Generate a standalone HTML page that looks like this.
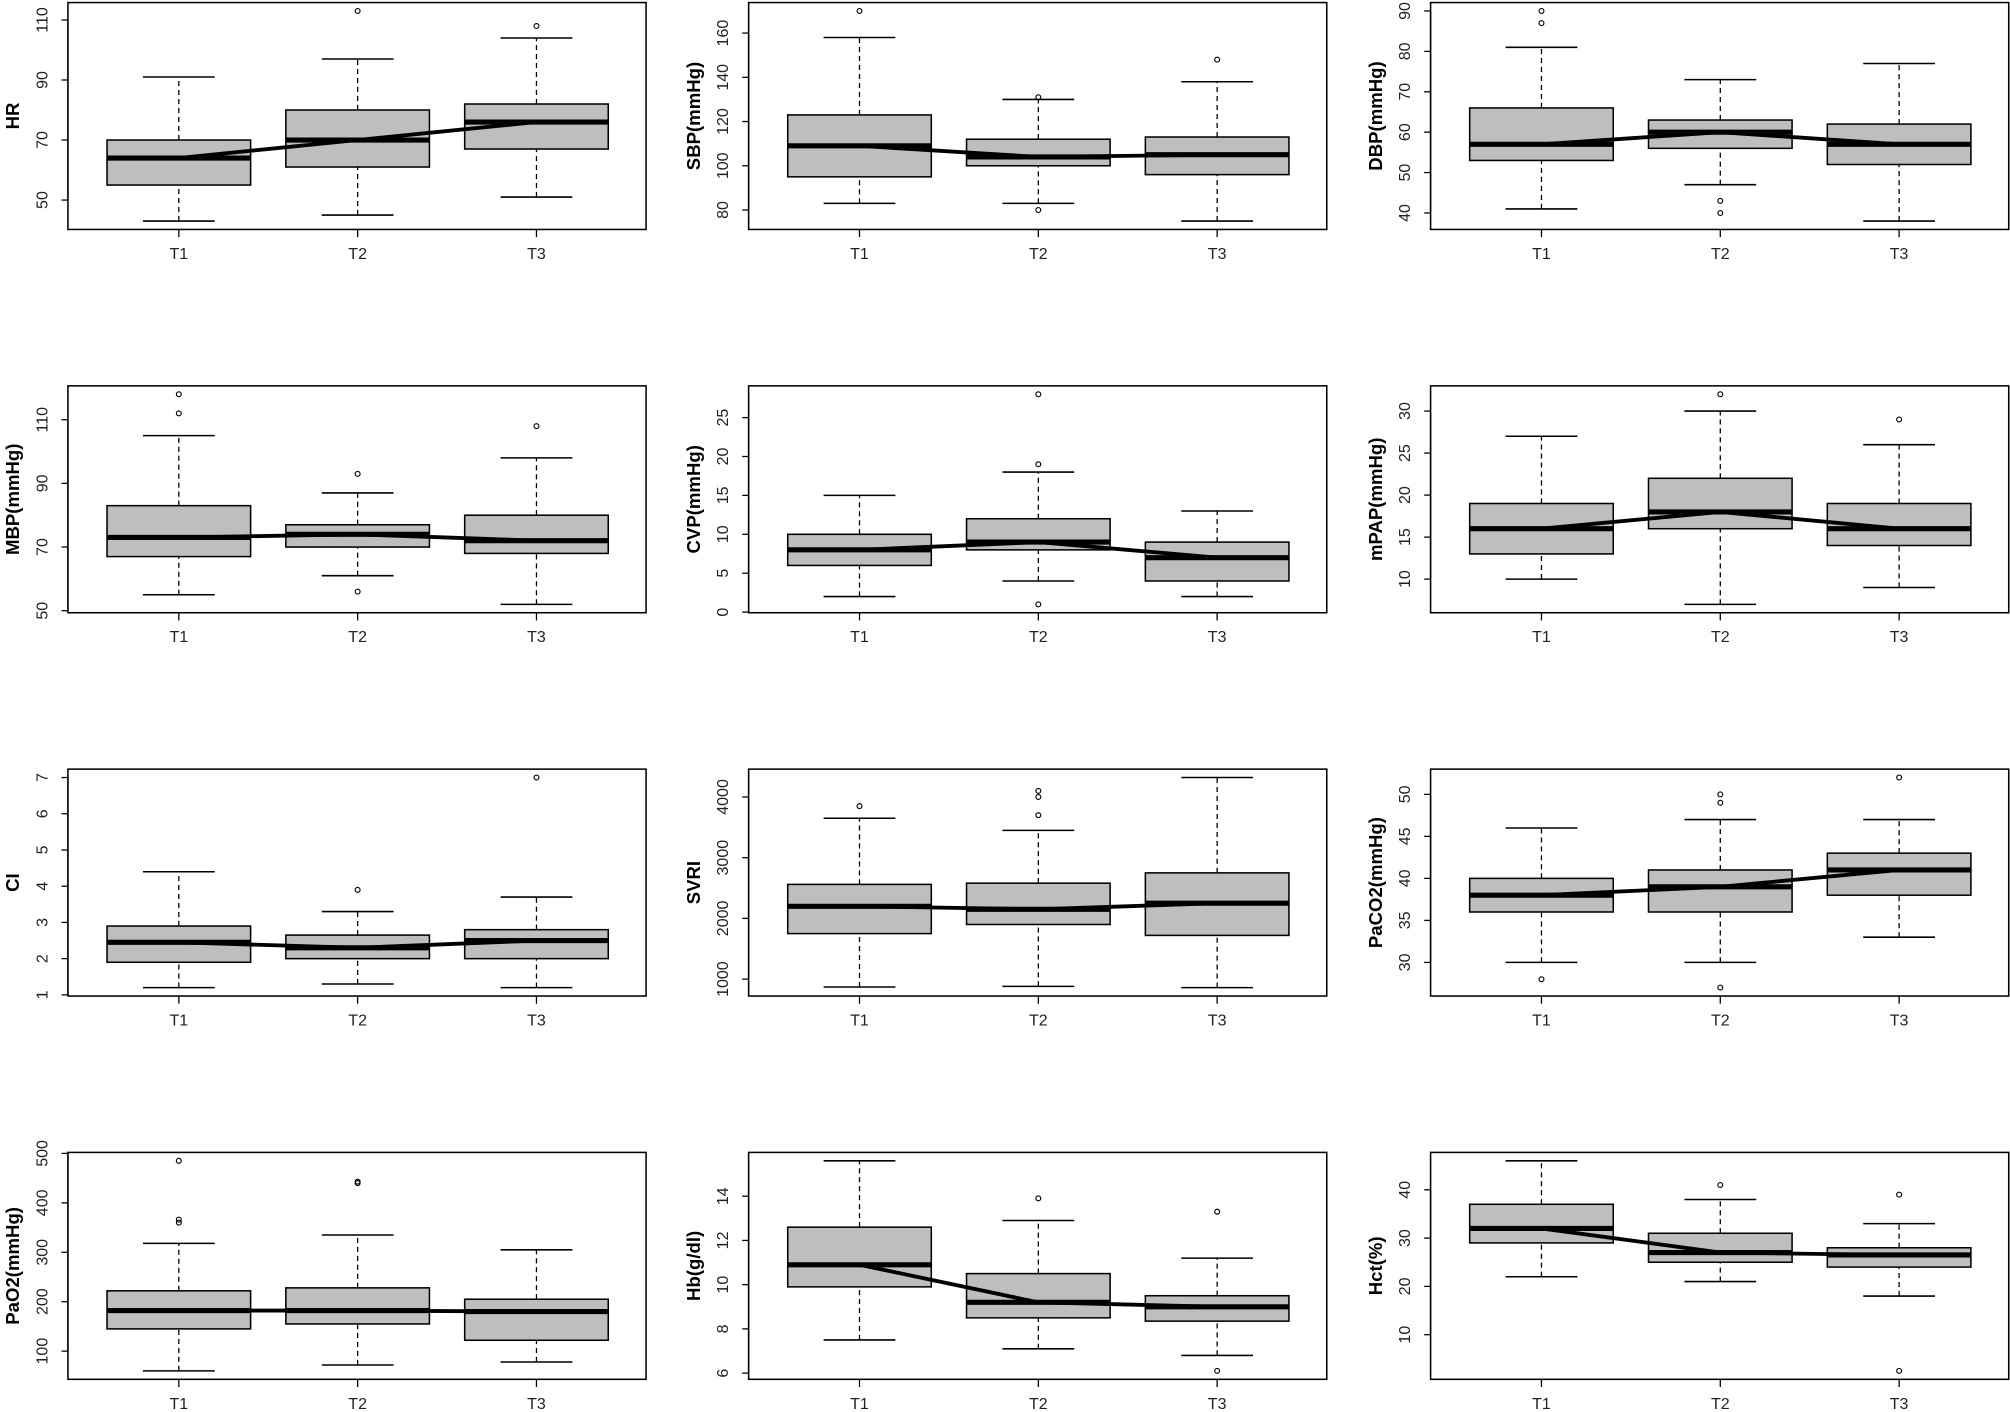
<!DOCTYPE html>
<html><head><meta charset="utf-8"><style>
html,body{margin:0;padding:0;background:#fff}
svg{display:block}
</style></head><body>
<svg id="s" width="2010" height="1412" viewBox="0 0 1568 1101.5" xmlns="http://www.w3.org/2000/svg" font-family="Liberation Sans, sans-serif"></svg>
<script>
const P=[
 {lab:"HR",t:[50,70,90,110],r:[43,113],g:[[43,55,64,70,91,[]],[45,61,70,80,97,[113]],[51,67,76,82,104,[108]]]},
 {lab:"SBP(mmHg)",t:[80,100,120,140,160],r:[75,170],g:[[83,95,109,123,158,[170]],[83,100,104,112,130,[131,80]],[75,96,105,113,138,[148]]]},
 {lab:"DBP(mmHg)",t:[40,50,60,70,80,90],r:[38,90],g:[[41,53,57,66,81,[87,90]],[47,56,60,63,73,[43,40]],[38,52,57,62,77,[]]]},
 {lab:"MBP(mmHg)",t:[50,70,90,110],r:[52,118],g:[[55,67,73,83,105,[112,118]],[61,70,74,77,87,[93,56]],[52,68,72,80,98,[108]]]},
 {lab:"CVP(mmHg)",t:[0,5,10,15,20,25],r:[1,28],g:[[2,6,8,10,15,[]],[4,8,9,12,18,[19,28,1]],[2,4,7,9,13,[]]]},
 {lab:"mPAP(mmHg)",t:[10,15,20,25,30],r:[7,32],g:[[10,13,16,19,27,[]],[7,16,18,22,30,[32]],[9,14,16,19,26,[29]]]},
 {lab:"CI",t:[1,2,3,4,5,6,7],r:[1.2,7.0],g:[[1.2,1.9,2.45,2.9,4.4,[]],[1.3,2.0,2.3,2.65,3.3,[3.9]],[1.2,2.0,2.5,2.8,3.7,[7.0]]]},
 {lab:"SVRI",t:[1000,2000,3000,4000],r:[860,4320],g:[[870,1750,2200,2560,3650,[3850]],[880,1900,2150,2580,3450,[3700,4000,4100]],[860,1720,2250,2750,4320,[]]]},
 {lab:"PaCO2(mmHg)",t:[30,35,40,45,50],r:[27,52],g:[[30,36,38,40,46,[28]],[30,36,39,41,47,[49,50,27]],[33,38,41,43,47,[52]]]},
 {lab:"PaO2(mmHg)",t:[100,200,300,400,500],r:[60,485],g:[[60,145,182,222,318,[360,366,485]],[72,155,182,228,335,[440,443]],[78,122,180,205,305,[]]]},
 {lab:"Hb(g/dl)",t:[6,8,10,12,14],r:[6.1,15.6],g:[[7.5,9.9,10.9,12.6,15.6,[]],[7.1,8.5,9.2,10.5,12.9,[13.9]],[6.8,8.35,9.0,9.5,11.2,[13.3,6.1]]]},
 {lab:"Hct(%)",t:[10,20,30,40],r:[2.5,46],g:[[22,29,32,37,46,[]],[21,25,27,31,38,[41]],[18,24,26.5,28,33,[39,2.5]]]}
];
const lefts=[53,584,1116],W=451,H=177,tops=[2,301,600,899];
let o="";
P.forEach((p,i)=>{
 const L=lefts[i%3],T=tops[Math.floor(i/3)],B=T+H;
 const d=p.r[1]-p.r[0],lo=p.r[0]-0.04*d,hi=p.r[1]+0.04*d;
 const y=v=>B-(v-lo)/(hi-lo)*H;
 const xs=[0,1,2].map(k=>L+86.5+139.5*k);
 const hw=56,sw=28;
 let meds=[];
 p.g.forEach((g,k)=>{
  const x=xs[k];
  o+=`<line x1="${x}" y1="${y(g[0])}" x2="${x}" y2="${y(g[1])}" stroke="#000" stroke-width="1" stroke-dasharray="4,3"/>`;
  o+=`<line x1="${x}" y1="${y(g[3])}" x2="${x}" y2="${y(g[4])}" stroke="#000" stroke-width="1" stroke-dasharray="4,3"/>`;
  o+=`<line x1="${x-sw}" y1="${y(g[0])}" x2="${x+sw}" y2="${y(g[0])}" stroke="#000" stroke-width="1.2"/>`;
  o+=`<line x1="${x-sw}" y1="${y(g[4])}" x2="${x+sw}" y2="${y(g[4])}" stroke="#000" stroke-width="1.2"/>`;
  o+=`<rect x="${x-hw}" y="${y(g[3])}" width="${2*hw}" height="${y(g[1])-y(g[3])}" fill="#bebebe" stroke="#000" stroke-width="1.2"/>`;
  o+=`<line x1="${x-hw}" y1="${y(g[2])}" x2="${x+hw}" y2="${y(g[2])}" stroke="#000" stroke-width="4"/>`;
  g[5].forEach(v=>{o+=`<circle cx="${x}" cy="${y(v)}" r="1.9" fill="none" stroke="#000" stroke-width="0.9"/>`;});
  meds.push(`${x},${y(g[2])}`);
 });
 o+=`<polyline points="${meds.join(" ")}" fill="none" stroke="#000" stroke-width="3"/>`;
 o+=`<rect x="${L}" y="${T}" width="${W}" height="${H}" fill="none" stroke="#000" stroke-width="1.2"/>`;
 o+=`<line x1="${L}" y1="${y(p.t[0])}" x2="${L}" y2="${y(p.t[p.t.length-1])}" stroke="#000"/>`;
 p.t.forEach(v=>{const yy=y(v);
  o+=`<line x1="${L-5}" y1="${yy}" x2="${L}" y2="${yy}" stroke="#000"/>`;
  o+=`<text transform="translate(${L-16},${yy}) rotate(-90)" text-anchor="middle" font-size="12.5" fill="#222">${v}</text>`;});
 o+=`<text transform="translate(${L-38},${T+H/2}) rotate(-90)" text-anchor="middle" font-size="14.5" font-weight="bold">${p.lab}</text>`;
 ["T1","T2","T3"].forEach((t,k)=>{
  o+=`<line x1="${xs[k]}" y1="${B}" x2="${xs[k]}" y2="${B+6}" stroke="#000"/>`;
  o+=`<text x="${xs[k]}" y="${B+23}" text-anchor="middle" font-size="12.5" fill="#222">${t}</text>`;});
});
document.getElementById("s").innerHTML=o;
</script>
</body></html>
